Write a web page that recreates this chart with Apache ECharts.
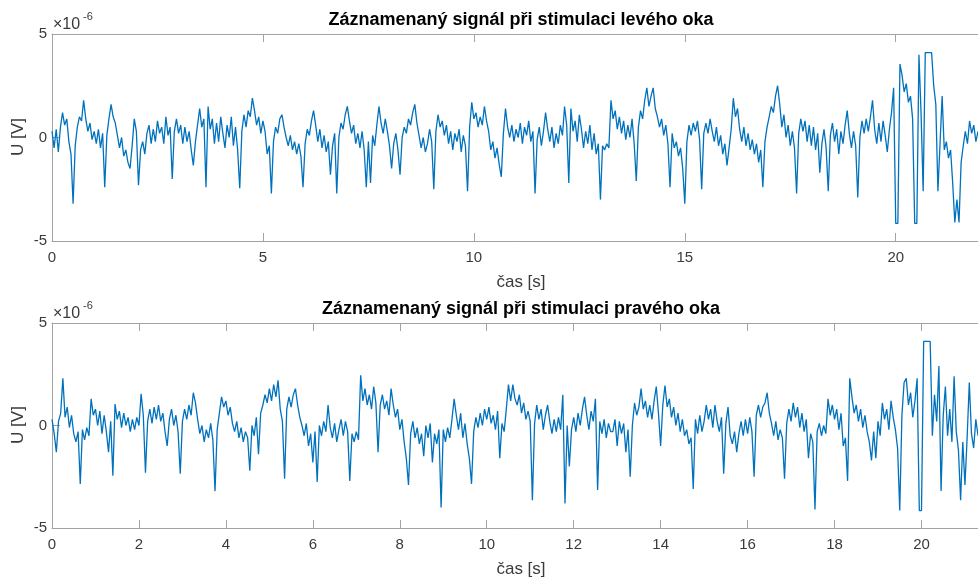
<!DOCTYPE html>
<html>
<head>
<meta charset="utf-8">
<title>Záznamenaný signál</title>
<script src="https://cdn.jsdelivr.net/npm/echarts@6/dist/echarts.min.js"></script>
<style>
html, body { margin: 0; padding: 0; background: #fff; }
#chart { width: 978px; height: 577px; }
</style>
</head>
<body>
<div id="chart"></div>
<script>
// sample step in seconds, values in 1e-6 V
var dt = 0.05;

var leftEye = [
    0.3, -0.5, 0.4, -0.7, 0.5, 1.2, 0.6, 0.9, -0.2, -0.8, -3.2, -0.4, 0.5, 1.0, 0.8, 1.8, 0.9, 0.3, 0.7, -0.1,
    0.3, -0.3, 0.4, -0.5, 0.2, -2.4, 0.1, 0.9, 1.6, 1.0, 0.7, 0.1, -0.5, 0.0, -0.9, -0.6, -1.2, -1.5, -0.4, 0.9,
    0.3, -2.3, -0.6, -0.2, -0.8, 0.2, 0.6, -0.3, 0.4, -0.2, 0.8, 0.2, 0.5, -0.3, 1.0, 0.1, 0.5, -2.0, 0.3, 0.9,
    0.2, 0.6, -0.3, 0.5, -0.2, 0.3, -0.6, -1.35, -0.2, 0.6, 1.4, 0.5, 0.9, -2.4, 1.5, 0.4, 0.9, -0.3, 0.7, -0.2,
    1.0, 0.2, -0.5, 0.6, 0.0, 1.0, -0.4, 0.5, -0.6, -2.45, 0.3, 1.1, 0.5, 1.3, 1.0, 1.9, 1.3, 0.6, 1.0, 0.2,
    0.8, 0.3, -0.8, -0.4, -2.7, -0.2, 0.5, 0.2, 0.9, 1.1, 0.5, 0.0, -0.4, 0.1, -0.6, -0.2, -0.8, -0.3, -0.9, -2.4,
    -0.3, 0.4, 0.1, 0.8, 1.3, 0.6, -0.2, 0.4, -0.5, 0.1, -0.7, -0.2, -1.8, -0.4, 0.2, -2.7, 0.0, 0.7, 0.4, 1.1,
    1.5, 0.8, 0.2, 0.6, -0.3, 0.2, -0.5, 0.3, -0.6, -2.4, -0.2, -2.2, 0.1, -0.4, 0.6, 1.5, 0.7, 0.2, 0.9, 0.3,
    -0.4, -1.5, -0.3, 0.2, -0.6, -1.8, 0.0, 0.5, 0.2, 0.9, 0.6, 1.2, 1.6, 0.7, 0.1, -0.5, 0.0, -0.7, -0.3, 0.4,
    -0.2, -2.5, 0.3, 1.1, 0.5, 0.8, 0.1, 0.6, -0.3, 0.3, -0.6, 0.2, -0.2, 0.4, -0.7, 0.1, -0.4, -2.6, 0.5, 1.7,
    0.9, 1.2, 0.5, 1.0, 0.6, 1.5, 0.8, 0.3, -0.6, -0.2, -1.0, -0.5, -1.3, -1.9, 0.2, 1.4, 0.5, 0.0, 0.6, -0.2,
    0.4, 0.0, 0.7, -0.3, 0.5, 0.1, 0.8, -0.2, 0.3, -2.7, -0.1, 0.5, -0.4, 0.3, 1.2, 0.4, -0.2, 0.5, -0.5, 0.2,
    -0.3, 0.6, 0.1, 1.5, 0.6, -2.2, 1.4, 0.3, 0.8, -0.2, 1.1, 0.4, -0.5, 0.3, -0.3, 0.6, -0.6, 0.2, -0.8, -0.3,
    -3.0, -0.4, -0.6, -0.3, -0.5, 1.8, 0.9, 1.3, 0.4, 1.0, 0.2, 0.8, -0.1, 0.6, 0.0, 0.9, -0.3, -2.1, 0.5, 1.3,
    0.9, 1.8, 2.4, 1.5, 2.0, 2.4, 1.4, 1.0, 0.5, 0.9, 0.1, 0.6, -0.3, -2.4, 0.2, -0.5, -0.2, -0.9, -0.5, -1.5,
    -3.2, -0.2, 0.6, 0.1, 0.7, 0.3, 0.8, -0.1, -2.5, 0.2, 0.7, 0.2, 0.9, 0.3, -0.2, 0.5, -0.4, 0.1, -0.8, -0.3,
    -1.35, -0.5, 0.4, 1.9, 1.0, 1.4, 0.4, -0.2, 0.5, -0.4, 0.2, -0.6, -0.1, -0.8, -0.3, -1.2, -0.6, -2.4, -0.2, 0.5,
    1.0, 1.5, 1.2, 2.0, 2.5, 1.6, 0.5, 1.1, 0.0, 0.6, -0.4, 0.3, -0.5, -2.7, 0.2, 0.9, 0.3, 0.8, -0.2, 0.6,
    -0.4, 0.5, -0.6, 0.2, -1.7, -0.3, 0.4, -0.5, -2.6, 0.1, 0.7, -0.2, 0.4, -0.8, 0.3, -0.3, 0.6, 1.3, 0.2, -0.5,
    0.3, -0.4, -2.9, 0.0, 0.8, 0.2, 0.9, 0.3, 1.0, 1.8, 0.4, -0.3, 0.7, -0.2, 0.8, 0.1, -0.7, 0.4, 1.2, 2.4,
    -4.15, -4.15, 3.55, 3.0, 2.2, 2.6, 1.7, 2.0, 0.9, -4.15, -4.15, 4.0, 1.2, -2.6, 4.1, 4.1, 4.1, 4.1, 2.5, 1.6,
    -2.6, -0.3, 2.0, -0.6, -0.2, -1.0, -0.6, -2.2, -4.1, -3.0, -4.1, -1.2, -0.4, 0.3, -0.3, 0.8, 0.2, 0.6, -0.2, 0.3
];

var rightEye = [
    0.3, -0.4, -1.3, 0.2, 0.6, 2.3, 0.4, 0.9, -0.1, 0.5, -0.4, -0.8, -0.3, -2.85, -0.2, -0.7, -0.1, -0.5, 1.3, 0.5,
    0.8, 0.0, 0.7, -0.4, 0.5, -0.3, -1.3, 0.2, -2.45, 1.05, 0.3, 0.7, -0.1, 0.6, 0.0, 0.4, -0.3, 0.3, -0.2, 0.4,
    0.0, 1.55, 0.5, -2.3, 0.2, 0.8, 0.1, 0.9, 0.3, 1.0, 0.2, 0.6, -0.3, -1.0, 0.3, 0.8, 0.0, 0.5, -0.3, -2.35,
    0.2, 0.8, 0.3, 1.0, 0.5, 1.6, 1.1, 0.3, -0.4, 0.0, -0.8, -0.2, -0.6, 0.1, -0.7, -3.2, -0.2, 0.6, 1.4, 0.9,
    1.2, 0.5, 0.9, 0.1, -0.3, 0.2, -0.6, -0.1, -0.8, -0.3, -0.6, -2.2, 0.0, -0.5, 0.4, -1.4, 0.6, 1.0, 1.5, 1.1,
    1.8, 1.2, 2.0, 1.4, 2.2, 0.8, 0.2, -2.6, 0.8, 1.4, 0.9, 1.5, 1.8, 1.0, 0.4, 0.0, -0.5, 0.1, -1.0, -0.4,
    -1.8, -0.3, -2.75, 0.0, -0.5, 0.2, -0.3, 1.0, -0.1, -0.6, 0.1, -0.8, -0.2, 0.3, -0.5, 0.2, -0.3, -2.7, -0.4, -0.8,
    -0.3, -0.7, 2.45, 1.2, 1.8, 1.0, 1.5, 0.8, 1.9, 1.1, -1.3, 1.0, 1.5, 0.8, 1.2, 0.5, 1.8, 1.0, 0.4, 0.8,
    -0.2, 0.3, -0.8, -1.6, -2.9, -0.4, 0.2, -0.6, -0.1, -0.9, -0.4, -1.5, 0.0, -0.6, 0.1, -1.8, -0.4, -0.9, -0.2, -4.0,
    -0.2, -0.8, -0.1, -0.6, 0.3, 1.3, 0.5, -0.2, 0.6, -0.6, 0.1, -0.9, -1.6, -2.85, -0.3, 0.4, -0.1, 0.6, 0.0, 0.8,
    0.3, 0.9, 0.1, 0.5, -0.2, 0.7, -1.6, 0.1, -0.3, 0.8, 2.0, 1.2, 2.0, 1.3, 1.0, 1.5, 0.6, 1.1, 0.3, 0.7,
    0.2, -3.65, 0.1, 1.0, 0.3, 0.8, -0.2, 0.5, 1.0, 0.2, -0.4, 0.3, -0.3, 0.4, -0.2, 1.5, -3.8, 0.0, -2.0, -0.2,
    0.4, -0.3, 0.6, 0.0, 0.8, 1.4, 0.5, -0.2, 0.7, 0.2, 1.3, -3.15, 0.2, -0.4, 0.3, -0.6, 0.1, -0.3, -0.3, 0.3,
    -1.0, 0.2, -0.4, 0.1, -1.3, -0.2, -2.5, 0.0, 1.1, 0.5, 0.9, 1.8, 0.8, 1.2, 0.4, 1.0, 0.3, 1.2, 1.9, 0.6,
    -1.0, 1.0, 1.95, 0.9, 1.3, 0.4, 0.9, 0.0, 0.6, -0.3, 0.3, -0.5, -0.2, -0.9, -0.6, -3.1, 0.3, -0.4, 0.5, -0.3,
    0.2, 1.0, 0.3, 0.8, -0.1, 1.0, 0.2, -0.3, 0.4, -2.35, 0.1, 0.9, -0.5, -0.9, -0.3, -1.3, -0.4, 0.2, -0.5, 0.3,
    -0.4, 0.4, -0.3, -2.5, 0.5, 1.0, 0.4, 0.9, 1.1, 1.6, 0.6, 0.1, -0.5, 0.2, -0.7, -0.2, -0.6, -2.6, 0.1, 0.8,
    0.2, 1.1, 0.4, 0.9, -0.1, 0.6, -0.3, 0.3, -1.6, -0.4, -0.8, -4.1, -0.3, 0.1, -0.5, 0.0, -0.4, 1.3, 0.5, 1.0,
    0.3, 0.8, -0.2, 0.6, -1.0, -0.6, -2.7, 2.3, 1.4, 0.6, 1.0, 0.2, 0.8, -0.1, 0.5, -0.3, -0.8, -1.7, -0.3, -1.6,
    0.2, -0.5, 1.1, 0.3, 0.8, -0.2, 1.2, 0.4, -0.2, -1.1, -4.15, 0.5, 2.1, 2.3, 1.0, 1.6, 0.4, 1.2, 2.3, -4.15,
    -4.15, 4.1, 4.1, 4.1, 4.1, -0.5, 1.5, 0.2, 2.9, -3.2, 0.5, 1.9, -0.5, 0.8, -0.8, 2.4, -0.3, -1.2, -3.65, -0.8,
    -2.9, -0.6, 2.1, -0.4, -1.1, 0.3, -0.5
];

var topTicks = [0, 5, 10, 15, 20];
var bottomTicks = [0, 2, 4, 6, 8, 10, 12, 14, 16, 18, 20];
var yTicks = [-5, 0, 5];
var titleLeft = 'Záznamenaný signál při stimulaci levého oka';
var titleRight = 'Záznamenaný signál při stimulaci pravého oka';

var font = "'Liberation Sans', Arial, sans-serif";
var axisGray = '#a3a3a3';
var labelGray = '#3a3a3a';
var lineBlue = '#0072BD';

function toPoints(values) {
    return values.map(function (v, i) {
        return [Math.round(i * dt * 100) / 100, v];
    });
}

function xAxisFor(grid, max, ticks, onTop) {
    return {
        type: 'value',
        gridIndex: grid,
        min: 0,
        max: max,
        position: onTop ? 'top' : 'bottom',
        axisLine: { onZero: false, lineStyle: { color: axisGray, width: 1 } },
        axisTick: { inside: true, length: 8, customValues: ticks, lineStyle: { color: axisGray } },
        axisLabel: {
            show: !onTop, customValues: ticks, margin: 9,
            color: labelGray, fontSize: 15, fontFamily: font
        },
        splitLine: { show: false }
    };
}

function yAxisFor(grid) {
    return {
        type: 'value',
        gridIndex: grid,
        min: -5,
        max: 5,
        axisLine: { show: true, onZero: false, lineStyle: { color: axisGray, width: 1 } },
        axisTick: { show: true, inside: true, length: 8, customValues: yTicks, lineStyle: { color: axisGray } },
        axisLabel: { customValues: yTicks, margin: 5, color: labelGray, fontSize: 15, fontFamily: font },
        splitLine: { show: false }
    };
}

function label(text, x, y, size, align, extra) {
    var el = {
        type: 'text',
        x: x,
        y: y,
        style: {
            text: text,
            fill: labelGray,
            font: size + 'px ' + font,
            textAlign: align || 'center',
            textVerticalAlign: 'middle'
        }
    };
    if (extra) {
        for (var k in extra) el[k] = extra[k];
    }
    return el;
}

function titleText(text, y) {
    var el = label(text, 521, y, 18);
    el.style.fill = '#000';
    el.style.font = 'bold 18px ' + font;
    return el;
}

function exponent(offset) {
    return [
        label('×10', 53, 25 + offset, 16, 'left'),
        label('-6', 83, 17 + offset, 11, 'left')
    ];
}

var chart = echarts.init(document.getElementById('chart'));

var option = {
    animation: false,
    backgroundColor: '#fff',
    grid: [
        { left: 52, top: 34, right: 0, height: 207 },
        { left: 52, top: 323, right: 0, height: 205 }
    ],
    xAxis: [
        xAxisFor(0, 21.95, topTicks, false),
        xAxisFor(0, 21.95, topTicks, true),
        xAxisFor(1, 21.3, bottomTicks, false),
        xAxisFor(1, 21.3, bottomTicks, true)
    ],
    yAxis: [yAxisFor(0), yAxisFor(1)],
    series: [
        {
            type: 'line', xAxisIndex: 0, yAxisIndex: 0,
            data: toPoints(leftEye), showSymbol: false,
            lineStyle: { color: lineBlue, width: 1.3 }
        },
        {
            type: 'line', xAxisIndex: 2, yAxisIndex: 1,
            data: toPoints(rightEye), showSymbol: false,
            lineStyle: { color: lineBlue, width: 1.3 }
        }
    ],
    graphic: [
        titleText(titleLeft, 20),
        titleText(titleRight, 309),
        label('čas [s]', 521, 282, 17),
        label('čas [s]', 521, 569, 17),
        label('U [V]', 18, 137, 17, 'center', { rotation: Math.PI / 2 }),
        label('U [V]', 18, 425, 17, 'center', { rotation: Math.PI / 2 })
    ].concat(exponent(0), exponent(289))
};

chart.setOption(option);
</script>
</body>
</html>
